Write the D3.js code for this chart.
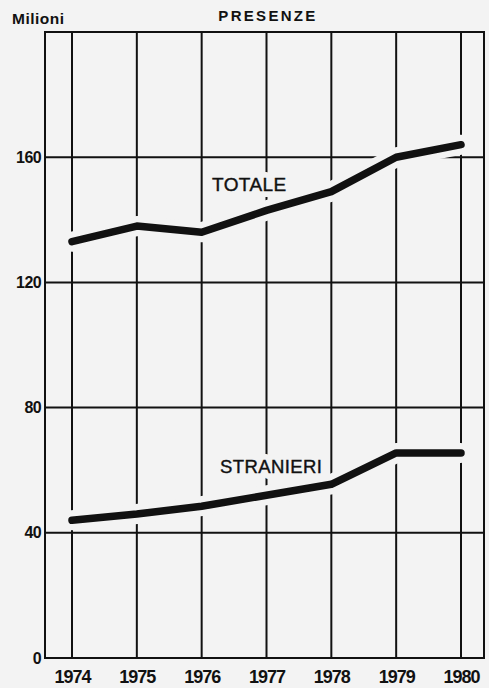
<!DOCTYPE html>
<html>
<head>
<meta charset="utf-8">
<script src="https://cdn.jsdelivr.net/npm/d3@7"></script>
<style>
  html, body { margin: 0; padding: 0; background: #f3f3f3; }
  svg { display: block; }
  text { font-family: "Liberation Sans", Arial, Helvetica, sans-serif; fill: #111; }
</style>
</head>
<body>
<script>
// ---- data ----
const years = [1974, 1975, 1976, 1977, 1978, 1979, 1980];
const totale = [133, 138, 136, 143, 149, 160, 164];
const stranieri = [44, 46, 48.5, 52, 55.5, 65.5, 65.5];
const yTicks = [0, 40, 80, 120, 160];
const yTickLabels = ["0", "40", "80", "120", "160"];
const title = "PRESENZE";
const unitLabel = "Milioni";
const seriesLabels = ["TOTALE", "STRANIERI"];

const W = 489, H = 688;
const bg = "#f3f3f3";
const ink = "#111";

const svg = d3.select("body").append("svg").attr("width", W).attr("height", H);
svg.append("rect").attr("width", W).attr("height", H).attr("fill", bg);

const frame = { left: 45, right: 484, top: 32, bottom: 658 };
const x = d3.scaleLinear().domain([1974, 1980]).range([72, 461]);
const y = d3.scaleLinear().domain([0, 200]).range([frame.bottom, frame.top]);

// frame
svg.append("rect")
  .attr("x", frame.left).attr("y", frame.top)
  .attr("width", frame.right - frame.left).attr("height", frame.bottom - frame.top)
  .attr("fill", "none").attr("stroke", ink).attr("stroke-width", 2);

// horizontal gridlines
svg.append("g").selectAll("line").data(yTicks).join("line")
  .attr("x1", frame.left).attr("x2", frame.right)
  .attr("y1", d => y(d)).attr("y2", d => y(d))
  .attr("stroke", ink).attr("stroke-width", 2);

// vertical gridlines
svg.append("g").selectAll("line").data(years).join("line")
  .attr("x1", d => x(d)).attr("x2", d => x(d))
  .attr("y1", frame.top).attr("y2", frame.bottom)
  .attr("stroke", ink).attr("stroke-width", 2);

// y tick labels
const yAxis = d3.axisLeft(y).tickValues(yTicks)
  .tickFormat((d, i) => yTickLabels[i]).tickSize(0).tickPadding(4);
const gy = svg.append("g").attr("transform", `translate(${frame.left},0)`).call(yAxis);
gy.select(".domain").remove();
gy.selectAll("text").attr("font-size", 16).attr("font-weight", "bold")
  .attr("letter-spacing", -0.6).attr("fill", ink)
  .style("font-family", '"Liberation Sans", Arial, sans-serif');

// x tick labels
const xAxis = d3.axisBottom(x).tickValues(years).tickFormat(d3.format("d"))
  .tickSize(0).tickPadding(12);
const gx = svg.append("g").attr("transform", `translate(0,${frame.bottom})`).call(xAxis);
gx.select(".domain").remove();
gx.selectAll("text").attr("font-size", 18).attr("font-weight", "bold")
  .attr("letter-spacing", -1).attr("fill", ink)
  .style("font-family", '"Liberation Sans", Arial, sans-serif');

// lines with paper-coloured halo
const line = d3.line().x((d, i) => x(years[i])).y(d => y(d));
[totale, stranieri].forEach(s => {
  svg.append("path").datum(s).attr("d", line)
    .attr("fill", "none").attr("stroke", bg).attr("stroke-width", 20)
    .attr("stroke-linejoin", "round").attr("stroke-linecap", "round");
});

// series labels with halo
const lab = svg.append("g");
const labelPos = [{ x: 212, y: 191, s: 19 }, { x: 220, y: 473, s: 18.5 }];
seriesLabels.forEach((t, i) => {
  lab.append("text").attr("x", labelPos[i].x).attr("y", labelPos[i].y)
    .attr("font-size", labelPos[i].s).attr("letter-spacing", 0.4)
    .attr("stroke", bg).attr("stroke-width", 12).attr("stroke-linejoin", "round")
    .attr("fill", bg).text(t);
});
seriesLabels.forEach((t, i) => {
  lab.append("text").attr("x", labelPos[i].x).attr("y", labelPos[i].y)
    .attr("font-size", labelPos[i].s).attr("letter-spacing", 0.4)
    .attr("fill", ink).attr("stroke", ink).attr("stroke-width", 0.4).text(t);
});

[totale, stranieri].forEach(s => {
  svg.append("path").datum(s).attr("d", line)
    .attr("fill", "none").attr("stroke", ink).attr("stroke-width", 7.5)
    .attr("stroke-linejoin", "round").attr("stroke-linecap", "round");
});

// title and unit
svg.append("text").attr("x", 268).attr("y", 21).attr("text-anchor", "middle")
  .attr("font-size", 15).attr("font-weight", "bold").attr("letter-spacing", 2.3)
  .text(title);
svg.append("text").attr("x", 12).attr("y", 24)
  .attr("font-size", 15.5).attr("font-weight", "bold").attr("letter-spacing", 0.5)
  .text(unitLabel);
</script>
</body>
</html>
